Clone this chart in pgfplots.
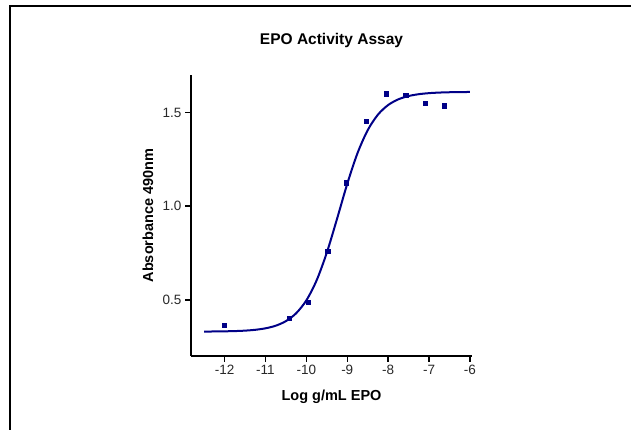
\documentclass[border=0pt]{standalone}
\usepackage{pgfplots}
\pgfplotsset{compat=1.18}
\usepackage{fontspec}
\setmainfont{Liberation Sans}
\definecolor{fitblue}{RGB}{0,0,135}
\definecolor{ticktext}{RGB}{40,40,40}
\begin{document}
\begin{tikzpicture}[x=1pt,y=1pt]
\useasboundingbox (0,0) rectangle (631,430);
% frame lines at left and top of the image
\draw[line width=2.2pt] (10,0) -- (10,424) -- (631,424);
\begin{axis}[
    at={(191pt,74pt)}, anchor=south west,
    scale only axis, width=281pt, height=281pt,
    axis lines*=left,
    axis line style={line width=2pt},
    xmin=-12.82, xmax=-5.95,
    ymin=0.2, ymax=1.7,
    xtick={-12,-11,...,-6},
    xticklabels={-12,-11,-10,-9,-8,-7,-6},
    ytick={0.5,1.0,1.5},
    yticklabels={0.5,1.0,1.5},
    tick align=outside,
    major tick length=6pt,
    tick style={line width=1.5pt, black},
    ticklabel style={font=\fontsize{13.5}{15}\selectfont, text=ticktext},
    title={EPO Activity Assay},
    title style={font=\bfseries\fontsize{15.5}{17}\selectfont, at={(axis description cs:0.5,1.103)}, anchor=center},
    xlabel={Log g/mL EPO},
    ylabel={Absorbance 490nm},
    xlabel style={font=\bfseries\fontsize{14.5}{16}\selectfont, at={(axis description cs:0.5,-0.146)}, anchor=center},
    ylabel style={font=\bfseries\fontsize{14.5}{16}\selectfont, at={(axis description cs:-0.153,0.5)}, anchor=center},
    clip=false,
]
% fitted dose-response curve
\addplot[fitblue, line width=2pt, smooth, no markers] coordinates {
(-12.5,0.3305) (-12.25,0.3309) (-12,0.3317) (-11.75,0.3330) (-11.5,0.3354)
(-11.25,0.3398) (-11,0.3477) (-10.75,0.3616) (-10.5,0.3861) (-10.25,0.4280)
(-10,0.4969) (-9.75,0.6032) (-9.5,0.7515) (-9.25,0.9320) (-9,1.1191)
(-8.75,1.2824) (-8.5,1.4055) (-8.25,1.4883) (-8,1.5397) (-7.75,1.5702)
(-7.5,1.5877) (-7.25,1.5976) (-7,1.6031) (-6.75,1.6062) (-6.5,1.6079)
(-6.25,1.6088) (-6,1.6094)
};
% measured points
\addplot[only marks, mark=square*, mark size=2.1pt, fitblue] coordinates {
(-12,0.363) (-10.41,0.40) (-9.96,0.488) (-9.48,0.76) (-9.02,1.125)
(-8.53,1.454) (-8.04,1.60) (-7.57,1.594) (-7.09,1.55) (-6.63,1.536)
};
\end{axis}
\end{tikzpicture}
\end{document}
